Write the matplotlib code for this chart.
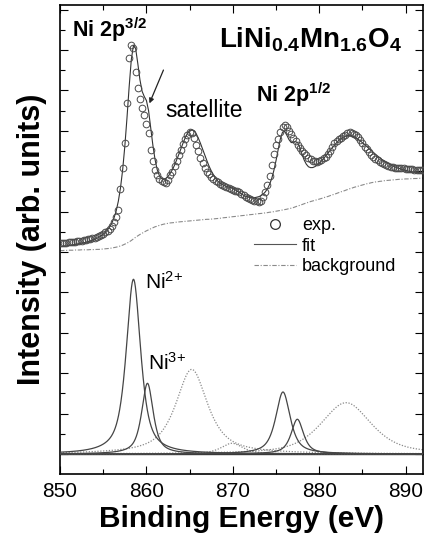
'''
Ni 2p XPS spectrum of LiNi0.4Mn1.6O4 with fitted components
'''

import numpy as np
import matplotlib
matplotlib.use('Agg')
import matplotlib.pyplot as plt
from matplotlib.lines import Line2D

plt.rcParams['font.family'] = ['Liberation Sans', 'DejaVu Sans']
plt.rcParams['mathtext.fontset'] = 'custom'
plt.rcParams['mathtext.rm'] = 'Liberation Sans'
plt.rcParams['mathtext.bf'] = 'Liberation Sans:bold'
plt.rcParams['mathtext.it'] = 'Liberation Sans:italic'

# measured spectrum, 0.25 eV steps starting at 850 eV (arb. units)
e_start = 850.0
e_step = 0.25
exp_counts = [
    10.43, 10.45, 10.44, 10.47, 10.48, 10.50, 10.49, 10.52,
    10.54, 10.55, 10.57, 10.58, 10.61, 10.63, 10.65, 10.67,
    10.70, 10.74, 10.78, 10.84, 10.91, 10.98, 11.06, 11.15,
    11.30, 11.48, 11.72, 12.10, 13.10, 14.15, 15.38, 17.40,
    19.60, 20.25, 20.10, 18.90, 18.10, 17.60, 17.15, 16.80,
    16.35, 15.90, 15.05, 14.50, 14.08, 13.80, 13.62, 13.50,
    13.45, 13.44, 13.58, 13.80, 13.98, 14.25, 14.52, 14.78,
    15.05, 15.35, 15.58, 15.80, 15.95, 15.90, 15.65, 15.32,
    14.98, 14.68, 14.40, 14.15, 13.98, 13.84, 13.70, 13.60,
    13.50, 13.45, 13.38, 13.32, 13.27, 13.22, 13.17, 13.13,
    13.08, 13.04, 13.00, 12.97, 12.88, 12.80, 12.74, 12.68,
    12.62, 12.58, 12.55, 12.52, 12.49, 12.55, 12.72, 12.95,
    13.30, 13.78, 14.30, 14.85, 15.28, 15.60, 15.92, 16.20,
    16.29, 16.18, 16.00, 15.82, 15.65, 15.48, 15.30, 15.13,
    15.00, 14.90, 14.78, 14.68, 14.60, 14.53, 14.50, 14.48,
    14.50, 14.56, 14.64, 14.72, 14.85, 15.02, 15.20, 15.38,
    15.50, 15.60, 15.67, 15.73, 15.80, 15.87, 15.92, 15.90,
    15.84, 15.77, 15.70, 15.55, 15.38, 15.22, 15.08, 14.95,
    14.82, 14.72, 14.62, 14.55, 14.47, 14.40, 14.34, 14.29,
    14.25, 14.22, 14.20, 14.18, 14.17, 14.16, 14.15, 14.14,
    14.13, 14.12, 14.10, 14.09, 14.08, 14.08, 14.07, 14.06,
    14.05,
]

# Shirley-type background on the same energy grid
background = [
    10.07, 10.07, 10.08, 10.08, 10.09, 10.09, 10.09, 10.10,
    10.10, 10.10, 10.11, 10.11, 10.11, 10.11, 10.12, 10.12,
    10.12, 10.13, 10.13, 10.14, 10.15, 10.16, 10.17, 10.18,
    10.20, 10.22, 10.24, 10.27, 10.30, 10.34, 10.39, 10.44,
    10.50, 10.57, 10.65, 10.73, 10.80, 10.87, 10.93, 10.99,
    11.05, 11.10, 11.15, 11.20, 11.25, 11.28, 11.32, 11.35,
    11.38, 11.40, 11.42, 11.44, 11.45, 11.46, 11.48, 11.49,
    11.50, 11.51, 11.52, 11.53, 11.54, 11.55, 11.56, 11.57,
    11.58, 11.59, 11.60, 11.61, 11.62, 11.62, 11.63, 11.64,
    11.65, 11.66, 11.67, 11.69, 11.70, 11.71, 11.72, 11.74,
    11.75, 11.76, 11.77, 11.79, 11.80, 11.81, 11.82, 11.84,
    11.85, 11.86, 11.87, 11.89, 11.90, 11.91, 11.92, 11.94,
    11.95, 11.97, 11.98, 12.00, 12.02, 12.04, 12.06, 12.08,
    12.10, 12.12, 12.15, 12.17, 12.20, 12.24, 12.28, 12.31,
    12.35, 12.39, 12.43, 12.46, 12.50, 12.53, 12.56, 12.59,
    12.62, 12.65, 12.69, 12.72, 12.75, 12.79, 12.83, 12.86,
    12.90, 12.94, 12.98, 13.01, 13.05, 13.09, 13.13, 13.16,
    13.20, 13.23, 13.26, 13.29, 13.32, 13.35, 13.38, 13.40,
    13.43, 13.45, 13.47, 13.48, 13.50, 13.51, 13.53, 13.54,
    13.55, 13.56, 13.57, 13.58, 13.59, 13.60, 13.60, 13.61,
    13.62, 13.62, 13.63, 13.63, 13.64, 13.64, 13.65, 13.65,
    13.66,
]

# fitted components: centre (eV), height, FWHM (eV), lorentzian fraction
peak_names = ['Ni2+ 3/2', 'Ni3+ 3/2', 'sat 1', 'sat 2', 'Ni2+ 1/2', 'Ni3+ 1/2', 'sat 3']
peak_centers = [858.5, 860.12, 865.24, 869.9, 875.8, 877.46, 883.1]
peak_heights = [8.65, 3.5, 4.19, 0.53, 3.07, 1.72, 2.54]
peak_fwhm = [2.0, 1.6, 4.4, 3.0, 2.0, 1.7, 6.9]
peak_eta = [0.75, 0.75, 0.8, 0.7, 0.75, 0.75, 0.6]
peak_is_satellite = [False, False, True, True, False, False, True]


def pseudo_voigt(e, center, height, fwhm, eta):
    x = (e - center) / (fwhm / 2)
    lor = 1 / (1 + x**2)
    gau = np.exp(-np.log(2) * x**2)
    return height * (eta * lor + (1 - eta) * gau)


energy = e_start + e_step * np.arange(len(exp_counts))
energy_fine = np.linspace(850, 892, 1681)
bg = np.array(background)

fit = bg.copy()
for c, h, w, eta in zip(peak_centers, peak_heights, peak_fwhm, peak_eta):
    fit += pseudo_voigt(energy, c, h, w, eta)

fig = plt.figure(figsize=(4.27, 5.45), dpi=100)
ax = fig.add_axes([0.1405, 0.1303, 0.8501, 0.8605])

# upper part: data, fit, background
ax.plot(energy, fit, color='#333333', lw=0.8, zorder=3)
ax.plot(energy, exp_counts, 'o', mfc='none', mec='#4a4a4a', ms=4.8, mew=0.7, zorder=4)
ax.plot(energy, bg, color='#8a8a8a', lw=0.8, ls=(0, (4, 1.5, 1, 1.5)), zorder=2)

# lower part: components
ax.axhline(0, color='#333333', lw=1.0, zorder=2)
for c, h, w, eta, sat in zip(peak_centers, peak_heights, peak_fwhm, peak_eta, peak_is_satellite):
    comp = pseudo_voigt(energy_fine, c, h, w, eta)
    if sat:
        ax.plot(energy_fine, comp, color='#8a8a8a', lw=0.9, ls=(0, (1, 1.3)), zorder=2)
    else:
        ax.plot(energy_fine, comp, color='#454545', lw=0.9, zorder=3)

ax.set_xlim(850, 892)
ax.set_ylim(-0.99, 22.23)
ax.set_xticks([850, 860, 870, 880, 890])
ax.set_xticks(np.arange(855, 892, 10), minor=True)
ax.set_yticks(np.arange(0, 23, 2))
ax.set_yticks(np.arange(1, 23, 2), minor=True)
ax.set_yticklabels([])
ax.tick_params(which='both', direction='in', top=True, right=True, width=0.8)
ax.tick_params(which='major', length=6)
ax.tick_params(which='minor', length=3.5)
ax.tick_params(axis='x', labelsize=15, pad=6)
for sp in ax.spines.values():
    sp.set_linewidth(1.2)

ax.set_xlabel('Binding Energy (eV)', fontsize=21.5, fontweight='bold', labelpad=3)
ax.set_ylabel('Intensity (arb. units)', fontsize=22, fontweight='bold', labelpad=6)

# labels
ax.text(851.4, 20.64, r'Ni 2p$^{\mathbf{3/2}}$', fontsize=15.5, fontweight='bold', va='baseline')
ax.text(889.6, 20.15, r'LiNi$_{\mathbf{0.4}}$Mn$_{\mathbf{1.6}}$O$_{\mathbf{4}}$',
        fontsize=20, fontweight='bold', va='baseline', ha='right')
ax.text(862.2, 16.7, 'satellite', fontsize=16.5, va='baseline')
ax.text(872.7, 17.43, r'Ni 2p$^{\mathbf{1/2}}$', fontsize=15.5, fontweight='bold', va='baseline')
ax.text(859.78, 8.17, r'Ni$^{2{+}}$', fontsize=15, va='baseline')
ax.text(860.24, 4.16, r'Ni$^{3{+}}$', fontsize=15, va='baseline')
ax.annotate('', xy=(860.35, 17.36), xytext=(861.97, 19.01),
            arrowprops=dict(arrowstyle='-|>', color='#222222', lw=0.9,
                            mutation_scale=7, shrinkA=0, shrinkB=0))

handles = [
    Line2D([], [], ls='none', marker='o', mfc='none', mec='#333333', ms=7, mew=0.9),
    Line2D([], [], color='#555555', lw=0.8),
    Line2D([], [], color='#8a8a8a', lw=0.8, ls=(0, (4, 1.5, 1, 1.5))),
]
ax.legend(handles, ['exp.', 'fit', 'background'], loc='upper left',
          bbox_to_anchor=(0.535, 0.548), frameon=False, fontsize=13,
          borderpad=0, borderaxespad=0, handlelength=2.3, handletextpad=0.35,
          labelspacing=0.2)

fig.savefig('out.png', dpi=100)
